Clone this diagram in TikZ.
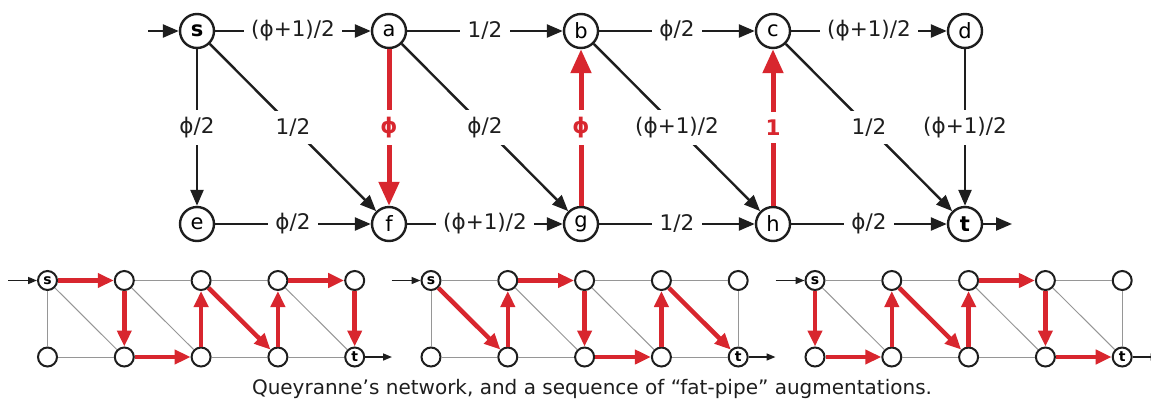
\documentclass[tikz,border=0pt]{standalone}
\usepackage{fontspec}
\setmainfont{DejaVu Sans}
\usetikzlibrary{arrows.meta}
\definecolor{myred}{RGB}{216,38,46}
\definecolor{ink}{RGB}{30,30,30}
\definecolor{thin}{RGB}{150,150,150}
\newcommand{\smallnodes}[2]{%
  \node[svtx] (#1s) at ({#2},280.5) {s};
  \node[svtx] (#1a) at ({#2+76.8},280.5) {};
  \node[svtx] (#1b) at ({#2+153.6},280.5) {};
  \node[svtx] (#1c) at ({#2+230.4},280.5) {};
  \node[svtx] (#1d) at ({#2+307.2},280.5) {};
  \node[svtx] (#1e) at ({#2},357) {};
  \node[svtx] (#1f) at ({#2+76.8},357) {};
  \node[svtx] (#1g) at ({#2+153.6},357) {};
  \node[svtx] (#1h) at ({#2+230.4},357) {};
  \node[svtx] (#1t) at ({#2+307.2},357) {t};
  \coordinate (#1in) at ({#2-39.5},280.5);
  \coordinate (#1out) at ({#2+344.5},357);
  \draw[sedge] (#1in) -- (#1s);
  \draw[sedge] (#1t) -- (#1out);
}
\begin{document}
\begin{tikzpicture}[x=1pt,y=-1pt,
  vtx/.style={circle,draw=ink,line width=2.4pt,minimum size=34pt,inner sep=0pt,fill=white,font=\fontsize{21}{24}\selectfont},
  edge/.style={draw=ink,line width=2.4pt,-{Triangle[length=16pt,width=13pt]}},
  redge/.style={draw=myred,line width=5pt,-{Triangle[length=24pt,width=20pt]}},
  lab/.style={fill=white,inner sep=7.5pt,font=\fontsize{21.5}{24}\selectfont,text=ink},
  rlab/.style={fill=white,inner sep=7.5pt,text=myred,font=\fontsize{21.5}{24}\selectfont\bfseries},
  svtx/.style={circle,draw=ink,line width=2pt,minimum size=19pt,inner sep=0pt,fill=white,font=\fontsize{14}{14}\selectfont\bfseries},
  gedge/.style={draw=thin,line width=1pt},
  sredge/.style={draw=myred,line width=4.5pt,-{Triangle[length=16pt,width=14pt]}},
  sedge/.style={draw=ink,line width=1.6pt,-{Triangle[length=9pt,width=7pt]}},
]
\useasboundingbox (0,0) rectangle (1151,402);
% main network
\node[vtx] (s) at (197,31) {\bfseries s};
\node[vtx] (a) at (389,31) {a};
\node[vtx] (b) at (581,31) {b};
\node[vtx] (c) at (773,31) {c};
\node[vtx] (d) at (965,31) {d};
\node[vtx] (e) at (197,224) {e};
\node[vtx] (f) at (389,224) {f};
\node[vtx] (g) at (581,224) {g};
\node[vtx] (h) at (773,224) {h};
\node[vtx] (t) at (965,224) {\bfseries t};
\coordinate (in) at (148,31);
\coordinate (out) at (1012,224);
\draw[edge] (in) -- (s);
\draw[edge] (t) -- (out);
\draw[edge] (s) -- node[lab]{(ϕ+1)/2} (a);
\draw[edge] (a) -- node[lab]{1/2} (b);
\draw[edge] (b) -- node[lab]{ϕ/2} (c);
\draw[edge] (c) -- node[lab]{(ϕ+1)/2} (d);
\draw[edge] (s) -- node[lab]{ϕ/2} (e);
\draw[edge] (s) -- node[lab]{1/2} (f);
\draw[edge] (a) -- node[lab]{ϕ/2} (g);
\draw[edge] (b) -- node[lab]{(ϕ+1)/2} (h);
\draw[edge] (c) -- node[lab]{1/2} (t);
\draw[edge] (d) -- node[lab]{(ϕ+1)/2} (t);
\draw[edge] (e) -- node[lab]{ϕ/2} (f);
\draw[edge] (f) -- node[lab]{(ϕ+1)/2} (g);
\draw[edge] (g) -- node[lab]{1/2} (h);
\draw[edge] (h) -- node[lab]{ϕ/2} (t);
\draw[redge] (a) -- node[rlab]{ϕ} (f);
\draw[redge] (g) -- node[rlab]{ϕ} (b);
\draw[redge] (h) -- node[rlab]{1} (c);
% small network 1
\smallnodes{P}{47.5}
\foreach \u/\v in {s/e,s/f,a/b,a/g,b/c,c/t,e/f,g/h,h/t} \draw[gedge] (P\u) -- (P\v);
\foreach \u/\v in {s/a,a/f,f/g,g/b,b/h,h/c,c/d,d/t} \draw[sredge] (P\u) -- (P\v);
% small network 2
\smallnodes{Q}{431}
\foreach \u/\v in {s/a,s/e,e/f,f/g,a/g,b/h,b/c,c/d,d/t,h/t} \draw[gedge] (Q\u) -- (Q\v);
\foreach \u/\v in {s/f,f/a,a/b,b/g,g/h,h/c,c/t} \draw[sredge] (Q\u) -- (Q\v);
% small network 3
\smallnodes{R}{815}
\foreach \u/\v in {s/a,s/f,a/b,b/h,c/d,c/t,d/t,f/g,g/h} \draw[gedge] (R\u) -- (R\v);
\foreach \u/\v in {s/e,e/f,f/a,a/g,g/b,b/c,c/h,h/t} \draw[sredge] (R\u) -- (R\v);
\node[font=\fontsize{20}{24}\selectfont,text=ink] (cap) at (592,389) {Queyranne’s network, and a sequence of “fat-pipe” augmentations.};
\end{tikzpicture}
\end{document}
